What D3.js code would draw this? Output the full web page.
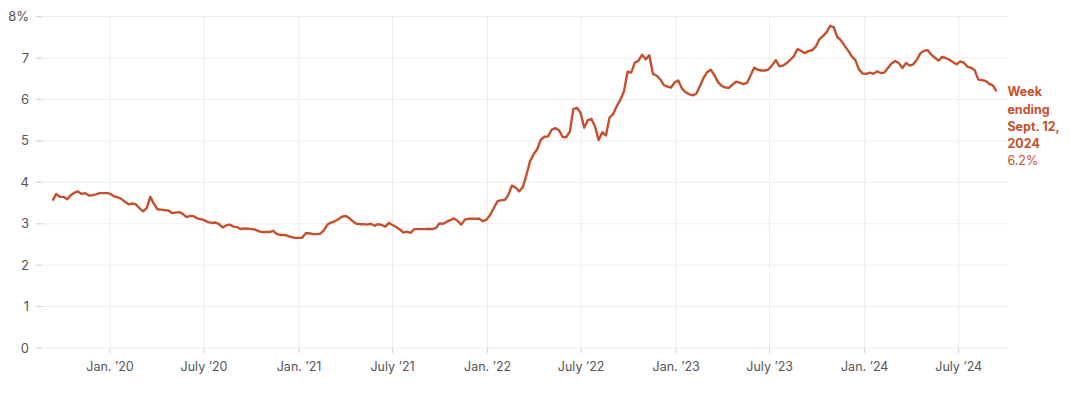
<!DOCTYPE html>
<html>
<head>
<meta charset="utf-8">
<script src="https://cdn.jsdelivr.net/npm/d3@7/dist/d3.min.js"></script>
<style>
  body { margin: 0; background: #fff; }
  svg { display: block; font-family: Inter, "Noto Sans", sans-serif; }
</style>
</head>
<body>
<script>
// weekly series, first week ending Sept. 12, 2019
var startDate = new Date(Date.UTC(2019, 8, 12));
var rates = [
  3.56, 3.72, 3.65, 3.65, 3.59, 3.69, 3.75, 3.78, 3.72, 3.74,
  3.68, 3.69, 3.71, 3.74, 3.74, 3.74, 3.72, 3.66, 3.64, 3.60,
  3.53, 3.47, 3.49, 3.47, 3.38, 3.30, 3.38, 3.65, 3.48, 3.35,
  3.34, 3.33, 3.32, 3.26, 3.27, 3.28, 3.24, 3.16, 3.19, 3.18,
  3.13, 3.11, 3.08, 3.04, 3.02, 3.03, 2.99, 2.91, 2.96, 2.98,
  2.93, 2.92, 2.87, 2.89, 2.88, 2.87, 2.86, 2.82, 2.80, 2.80,
  2.80, 2.83, 2.75, 2.73, 2.73, 2.71, 2.68, 2.66, 2.66, 2.66,
  2.77, 2.77, 2.75, 2.75, 2.76, 2.84, 2.98, 3.03, 3.06, 3.11,
  3.17, 3.19, 3.14, 3.06, 3.00, 2.99, 2.99, 2.98, 3.00, 2.95,
  2.99, 2.97, 2.93, 3.02, 2.97, 2.92, 2.86, 2.79, 2.81, 2.78,
  2.87, 2.87, 2.87, 2.87, 2.88, 2.87, 2.90, 3.01, 3.00, 3.05,
  3.09, 3.13, 3.07, 2.98, 3.10, 3.12, 3.12, 3.12, 3.12, 3.06,
  3.10, 3.21, 3.38, 3.54, 3.57, 3.57, 3.69, 3.92, 3.88, 3.78,
  3.88, 4.17, 4.50, 4.68, 4.80, 5.03, 5.10, 5.11, 5.27, 5.31,
  5.26, 5.10, 5.09, 5.22, 5.77, 5.80, 5.68, 5.32, 5.50, 5.53,
  5.35, 5.02, 5.21, 5.13, 5.56, 5.65, 5.84, 5.99, 6.20, 6.67,
  6.65, 6.89, 6.94, 7.08, 6.97, 7.07, 6.62, 6.58, 6.49, 6.35,
  6.31, 6.29, 6.41, 6.46, 6.27, 6.18, 6.13, 6.10, 6.14, 6.32,
  6.52, 6.66, 6.72, 6.59, 6.42, 6.33, 6.29, 6.28, 6.36, 6.43,
  6.41, 6.37, 6.40, 6.58, 6.77, 6.72, 6.70, 6.70, 6.73, 6.83,
  6.95, 6.80, 6.82, 6.88, 6.96, 7.05, 7.22, 7.17, 7.12, 7.17,
  7.19, 7.27, 7.45, 7.53, 7.62, 7.78, 7.75, 7.51, 7.43, 7.30,
  7.18, 7.04, 6.95, 6.72, 6.63, 6.62, 6.65, 6.62, 6.68, 6.64,
  6.65, 6.76, 6.87, 6.93, 6.88, 6.76, 6.88, 6.82, 6.85, 6.96,
  7.12, 7.18, 7.19, 7.08, 7.01, 6.94, 7.03, 7.00, 6.96, 6.90,
  6.85, 6.92, 6.89, 6.79, 6.77, 6.71, 6.48, 6.47, 6.45, 6.38,
  6.34, 6.20
];
var yTicks = [0, 1, 2, 3, 4, 5, 6, 7, 8];
var xTickDates = ["2020-01-01", "2020-07-01", "2021-01-01", "2021-07-01", "2022-01-01",
  "2022-07-01", "2023-01-01", "2023-07-01", "2024-01-01", "2024-07-01"];
var noteLines = ["Week", "ending", "Sept. 12,", "2024"];
var noteValue = "6.2%";

var data = rates.map(function(v, i) {
  return { date: d3.utcDay.offset(startDate, 7 * i), value: v };
});

var width = 1080, height = 396;
var plotLeft = 36, plotRight = 1008, plotTop = 16.7, plotBottom = 348;
var red = "#c5502d";

var svg = d3.select("body").append("svg")
  .attr("width", width)
  .attr("height", height);

var x = d3.scaleUtc()
  .domain([new Date(Date.UTC(2020, 0, 1)), new Date(Date.UTC(2024, 0, 1))])
  .range([110, 864.7]);

var y = d3.scaleLinear()
  .domain([0, 8])
  .range([plotBottom, plotTop]);

// horizontal grid + y labels
var yAxis = svg.append("g");
yAxis.selectAll("line.grid")
  .data(yTicks)
  .enter().append("line")
  .attr("class", "grid")
  .attr("x1", plotLeft).attr("x2", plotRight)
  .attr("y1", function(d) { return y(d); })
  .attr("y2", function(d) { return y(d); })
  .attr("stroke", "#ececec")
  .attr("stroke-width", 1);
yAxis.selectAll("line.tick")
  .data(yTicks)
  .enter().append("line")
  .attr("class", "tick")
  .attr("x1", plotLeft).attr("x2", plotLeft + 6)
  .attr("y1", function(d) { return y(d); })
  .attr("y2", function(d) { return y(d); })
  .attr("stroke", "#d4d4d4");
yAxis.selectAll("text")
  .data(yTicks)
  .enter().append("text")
  .attr("x", 29)
  .attr("y", function(d) { return y(d); })
  .attr("dy", "0.35em")
  .attr("text-anchor", "end")
  .attr("font-size", 13)
  .attr("fill", "#555")
  .text(function(d) { return d === 8 ? d + "%" : d; });

// vertical grid + x labels
var xDates = xTickDates.map(function(s) { return new Date(s + "T00:00:00Z"); });
var fmt = function(d) {
  var m = d.getUTCMonth() === 0 ? "Jan." : "July";
  return m + " \u2019" + String(d.getUTCFullYear()).slice(2);
};
var xAxis = svg.append("g");
xAxis.selectAll("line.grid")
  .data(xDates)
  .enter().append("line")
  .attr("class", "grid")
  .attr("x1", function(d) { return x(d); })
  .attr("x2", function(d) { return x(d); })
  .attr("y1", plotTop).attr("y2", plotBottom)
  .attr("stroke", "#ececec");
xAxis.selectAll("line.tick")
  .data(xDates)
  .enter().append("line")
  .attr("class", "tick")
  .attr("x1", function(d) { return x(d); })
  .attr("x2", function(d) { return x(d); })
  .attr("y1", plotBottom).attr("y2", plotBottom + 5)
  .attr("stroke", "#cfcfcf");
xAxis.selectAll("text")
  .data(xDates)
  .enter().append("text")
  .attr("x", function(d) { return x(d); })
  .attr("y", 367)
  .attr("dy", "0.35em")
  .attr("text-anchor", "middle")
  .attr("font-size", 12.5)
  .attr("fill", "#555")
  .text(fmt);

// the line
var line = d3.line()
  .x(function(d) { return x(d.date); })
  .y(function(d) { return y(d.value); });

svg.append("path")
  .datum(data)
  .attr("d", line)
  .attr("fill", "none")
  .attr("stroke", red)
  .attr("stroke-width", 2.4)
  .attr("stroke-linejoin", "round");

// end label
var last = data[data.length - 1];
var note = svg.append("text")
  .attr("x", x(last.date) + 11)
  .attr("y", y(last.value) + 5)
  .attr("font-size", 12.5)
  .attr("fill", red);
noteLines.forEach(function(t, i) {
  note.append("tspan")
    .attr("x", x(last.date) + 11)
    .attr("dy", i === 0 ? 0 : 17.3)
    .attr("font-weight", 700)
    .text(t);
});
note.append("tspan")
  .attr("x", x(last.date) + 11)
  .attr("dy", 17.3)
  .text(noteValue);
</script>
</body>
</html>
